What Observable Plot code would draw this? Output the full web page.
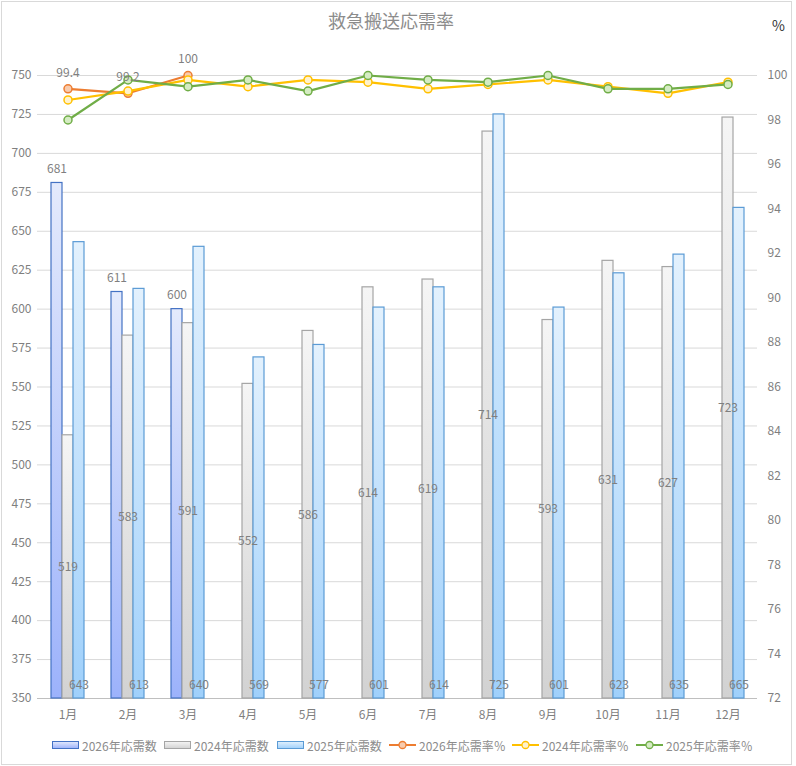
<!DOCTYPE html>
<html><head><meta charset="utf-8">
<script src="https://cdn.jsdelivr.net/npm/d3@7"></script>
<script src="https://cdn.jsdelivr.net/npm/@observablehq/plot@0.6"></script>
<style>
body{margin:0;background:#fff;font-family:"Noto Sans CJK JP","Noto Sans",sans-serif;}
#wrap{position:relative;width:796px;height:766px;overflow:hidden;}
#frame{position:absolute;left:1px;top:1px;width:791px;height:764px;border:1px solid #d9d9d9;box-sizing:border-box;}
#chart{position:absolute;left:0;top:0;}
#title{position:absolute;left:0;width:782px;top:10px;text-align:center;font-size:18px;line-height:20px;color:#8c8c8c;}
#pct{position:absolute;left:772px;top:16px;font-size:14px;line-height:18px;color:#333;}
#legend{position:absolute;left:0;top:737px;width:796px;height:16px;font-size:12px;color:#8c8c8c;white-space:nowrap;}
.item{position:absolute;top:0;height:16px;display:flex;align-items:center;}
.item svg{margin-right:3px;}
</style>
</head><body>
<div id="wrap">
<div id="frame"></div>
<div id="chart"></div>
<div id="title">救急搬送応需率</div>
<div id="pct">%</div>
<div id="legend"></div>
</div>
<script>
const months = ["1月","2月","3月","4月","5月","6月","7月","8月","9月","10月","11月","12月"];
const count2026 = [681, 611, 600];
const count2024 = [519, 583, 591, 552, 586, 614, 619, 714, 593, 631, 627, 723];
const count2025 = [643, 613, 640, 569, 577, 601, 614, 725, 601, 623, 635, 665];
const rate2026 = [99.4, 99.2, 100];
const rate2024 = [98.9, 99.3, 99.8, 99.5, 99.8, 99.7, 99.4, 99.6, 99.8, 99.5, 99.2, 99.7];
const rate2025 = [98.0, 99.8, 99.5, 99.8, 99.3, 100, 99.8, 99.7, 100, 99.4, 99.4, 99.6];
const leftTicks = [350,375,400,425,450,475,500,525,550,575,600,625,650,675,700,725,750];
const rightTicks = [72,74,76,78,80,82,84,86,88,90,92,94,96,98,100];
const seriesNames = ["2026年応需数","2024年応需数","2025年応需数","2026年応需率％","2024年応需率％","2025年応需率％"];

const yMin = leftTicks[0], yMax = leftTicks[leftTicks.length-1];
const rMin = rightTicks[0], rMax = rightTicks[rightTicks.length-1];
const rateToCount = d3.scaleLinear().domain([rMin, rMax]).range([yMin, yMax]);

const rows = (vals) => vals.map((v, i) => ({month: months[i], value: v}));
const r2026 = rows(count2026), r2024 = rows(count2024), r2025 = rows(count2025);
const l2026 = rows(rate2026), l2024 = rows(rate2024), l2025 = rows(rate2025);

const gradDefs = () => {
  const defs = document.createElementNS("http://www.w3.org/2000/svg", "defs");
  defs.innerHTML = `
  <linearGradient id="g2026" x1="0" y1="0" x2="0" y2="1"><stop offset="0" stop-color="#e4eafc"/><stop offset="1" stop-color="#9cb2fb"/></linearGradient>
  <linearGradient id="g2024" x1="0" y1="0" x2="0" y2="1"><stop offset="0" stop-color="#f5f5f5"/><stop offset="1" stop-color="#d2d2d2"/></linearGradient>
  <linearGradient id="g2025" x1="0" y1="0" x2="0" y2="1"><stop offset="0" stop-color="#e3f1fd"/><stop offset="1" stop-color="#9fd0fb"/></linearGradient>`;
  return defs;
};

const lbl = {fill: "#7f7f7f", fontSize: 12};
const lines = [
  {data: l2026, stroke: "#ed7d31", fill: "#f8cbad"},
  {data: l2024, stroke: "#ffc000", fill: "#fff2cc"},
  {data: l2025, stroke: "#70ad47", fill: "#d5ecc3"}
];

const chart = Plot.plot({
  width: 796,
  height: 730,
  marginTop: 75,
  marginBottom: 32,
  marginLeft: 37,
  marginRight: 39,
  style: {fontFamily: '"Noto Sans CJK JP","Noto Sans",sans-serif', fontSize: "12px", color: "#7f7f7f", background: "transparent"},
  x: {type: "band", domain: months, paddingInner: 0.45, paddingOuter: 0.225, label: null},
  y: {domain: [yMin, yMax], label: null},
  marks: [
    gradDefs,
    Plot.gridY(leftTicks, {stroke: "#d9d9d9", strokeOpacity: 1}),
    Plot.ruleY([yMin], {stroke: "#bfbfbf"}),
    Plot.axisY(leftTicks, {anchor: "left", tickSize: 0, tickPadding: 6, fontSize: 12, label: null}),
    Plot.axisY(rightTicks.map(rateToCount), {anchor: "right", tickSize: 0, tickPadding: 10, fontSize: 12, label: null,
      tickFormat: d => String(Math.round(rateToCount.invert(d)))}),
    Plot.axisX({tickSize: 0, tickPadding: 12, fontSize: 12, label: null}),
    Plot.barY(r2026, {x: "month", y1: yMin, y2: "value", insetLeft: 0, insetRight: 22, fill: "url(#g2026)", stroke: "#4472c4", strokeWidth: 1.2}),
    Plot.barY(r2024, {x: "month", y1: yMin, y2: "value", insetLeft: 11, insetRight: 11, fill: "url(#g2024)", stroke: "#a5a5a5", strokeWidth: 1.2}),
    Plot.barY(r2025, {x: "month", y1: yMin, y2: "value", insetLeft: 22, insetRight: 0, fill: "url(#g2025)", stroke: "#5b9bd5", strokeWidth: 1.2}),
    Plot.text(r2026, {x: "month", y: "value", text: d => String(d.value), dx: -11, dy: -14, ...lbl}),
    Plot.text(r2024, {x: "month", y: d => (d.value + yMin) / 2, text: d => String(d.value), ...lbl}),
    Plot.text(r2025, {x: "month", y: yMin, text: d => String(d.value), dx: 11, dy: -13, ...lbl}),
    ...lines.flatMap(s => [
      Plot.line(s.data, {x: "month", y: d => rateToCount(d.value), stroke: s.stroke, strokeWidth: 2.2}),
      Plot.dot(s.data, {x: "month", y: d => rateToCount(d.value), r: 4, fill: s.fill, stroke: s.stroke, strokeWidth: 1.5})
    ]),
    Plot.text(l2026, {x: "month", y: d => rateToCount(d.value), text: d => String(d.value), dy: -16, ...lbl})
  ]
});
document.getElementById("chart").appendChild(chart);

// legend
const legendLeft = [52, 164, 277, 389, 512, 636];
const legendStyles = [
  {type: "bar", stops: ["#e4eafc","#9cb2fb"], stroke: "#4472c4"},
  {type: "bar", stops: ["#f5f5f5","#d2d2d2"], stroke: "#a5a5a5"},
  {type: "bar", stops: ["#e3f1fd","#9fd0fb"], stroke: "#5b9bd5"},
  {type: "line", stroke: "#ed7d31", fill: "#f8cbad"},
  {type: "line", stroke: "#ffc000", fill: "#fff2cc"},
  {type: "line", stroke: "#70ad47", fill: "#d5ecc3"}
];
const legend = document.getElementById("legend");
seriesNames.forEach((name, i) => {
  const s = legendStyles[i];
  const item = document.createElement("div");
  item.className = "item";
  item.style.left = legendLeft[i] + "px";
  let sw;
  if (s.type === "bar") {
    sw = `<svg width="27" height="12"><defs><linearGradient id="lg${i}" x1="0" y1="0" x2="0" y2="1"><stop offset="0" stop-color="${s.stops[0]}"/><stop offset="1" stop-color="${s.stops[1]}"/></linearGradient></defs><rect x="0.5" y="2.5" width="26" height="7" fill="url(#lg${i})" stroke="${s.stroke}"/></svg>`;
  } else {
    sw = `<svg width="27" height="12"><line x1="0" x2="27" y1="6" y2="6" stroke="${s.stroke}" stroke-width="2"/><circle cx="13.5" cy="6" r="3.5" fill="${s.fill}" stroke="${s.stroke}" stroke-width="1.3"/></svg>`;
  }
  item.innerHTML = sw + `<span>${name}</span>`;
  legend.appendChild(item);
});
</script>
</body></html>
